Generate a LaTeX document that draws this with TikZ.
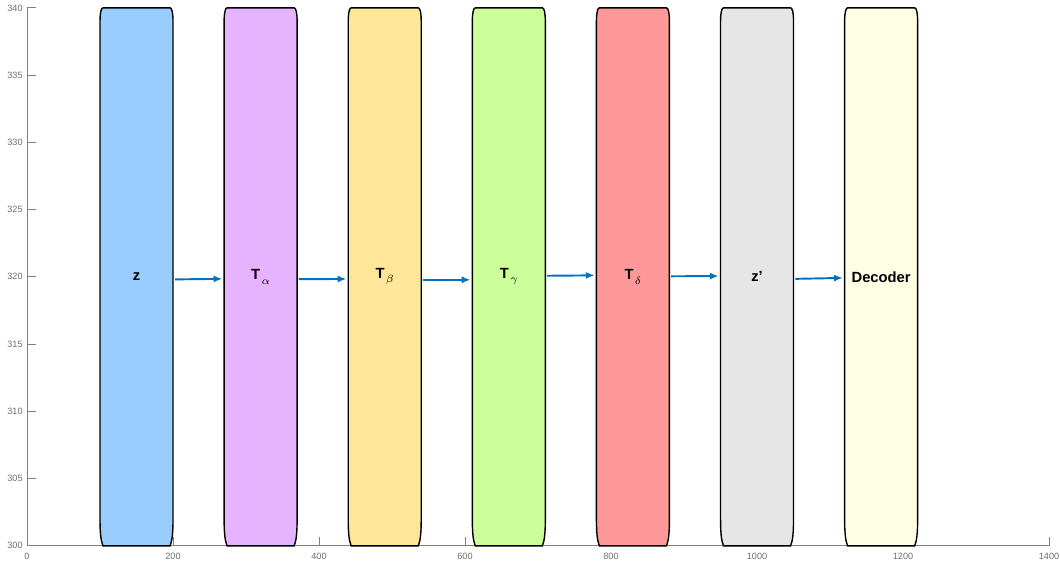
\documentclass[tikz,border=0pt]{standalone}
\usepackage{fontspec}
\setmainfont{Liberation Sans}
\usetikzlibrary{calc,arrows.meta}
\definecolor{zblue}{RGB}{153,204,255}
\definecolor{alphapurple}{RGB}{229,179,255}
\definecolor{betayellow}{RGB}{255,230,153}
\definecolor{gammagreen}{RGB}{204,255,153}
\definecolor{deltared}{RGB}{255,153,153}
\definecolor{zpgray}{RGB}{230,230,230}
\definecolor{deccream}{RGB}{255,255,230}
\definecolor{arrowblue}{RGB}{0,114,189}
\definecolor{axisgray}{RGB}{128,128,128}
\definecolor{tickgray}{RGB}{110,110,110}
\newcommand{\subgreek}[1]{\raisebox{-2.4pt}{\kern0.8pt$\scriptstyle#1$}}
\begin{document}
\begin{tikzpicture}[x={(0.0146cm,0)}, y={(0,0.269cm)}, >={Latex[length=5pt,width=4pt]},
		axis/.style={draw=axisgray, line width=0.5pt},
		ticklab/.style={text=tickgray, inner sep=0, font=\fontsize{5.2}{6}\selectfont},
		boxline/.style={draw=black, line width=0.8pt},
		blk/.style={minimum width=1.46cm, minimum height=10.76cm, inner sep=0, font=\fontsize{8.4}{10}\selectfont\bfseries},
		arr/.style={->, draw=arrowblue, line width=1.1pt}]
	\useasboundingbox (-37,298.74) rectangle (1415,340.59);
	% axes
	\draw[axis] (0,340) -- (0,300) -- (1400,300);
	\foreach \y in {300,305,...,340} {
			\draw[axis] (0,\y) -- ++(0.18cm,0);
			\node[ticklab, anchor=east] at ([xshift=-0.08cm]0,\y) {\y};
		}
	\foreach \x in {0,200,...,1400} {
			\draw[axis] (\x,300) -- ++(0,0.18cm);
			\node[ticklab] at ([yshift=-0.22cm]\x,300) {\x};
		}
	% blocks
	\foreach \x/\col/\n/\l in {100/zblue/z/{z}, 270/alphapurple/ta/{T\subgreek{\alpha}},
			440/betayellow/tb/{T\subgreek{\beta}}, 610/gammagreen/tg/{T\subgreek{\gamma}},
			780/deltared/td/{T\subgreek{\delta}}, 950/zpgray/zp/{z'}, 1120/deccream/dec/{Decoder}} {
			\draw[boxline, fill=\col] (\x+4,300) .. controls (\x+1,300.4) and (\x,301) .. (\x,302)
			-- (\x,339) .. controls (\x,339.6) and (\x+1.5,340) .. (\x+4,340)
			-- (\x+96,340) .. controls (\x+98.5,340) and (\x+100,339.6) .. (\x+100,339)
			-- (\x+100,302) .. controls (\x+100,301) and (\x+99,300.4) .. (\x+96,300) -- cycle;
			\node[blk] (\n) at (\x+50,320) {\l};
		}
	% connectors
	\foreach \p/\q/\s/\e in {z/ta/-0.19/-0.15, ta/tb/-0.17/-0.16, tb/tg/-0.22/-0.22,
			tg/td/0.08/0.11, td/zp/0.04/0.06, zp/dec/-0.15/-0.08} {
			\draw[arr] ($(\p.east)+(2,\s)$) -- ($(\q.west)+(-2,\e)$);
		}
\end{tikzpicture}
\end{document}
